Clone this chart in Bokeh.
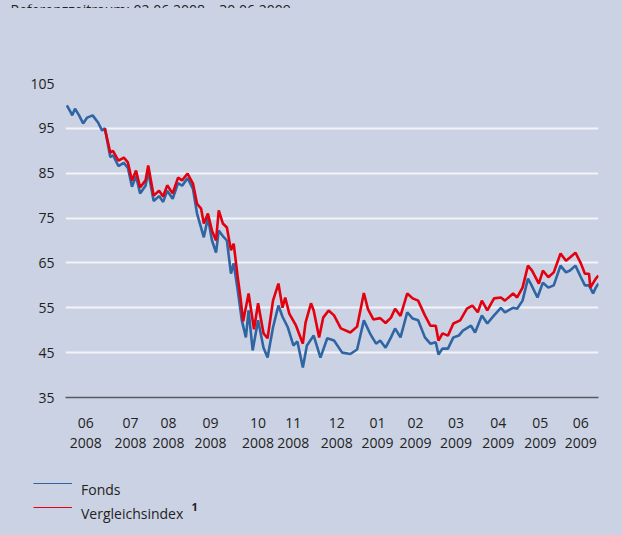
from bokeh.plotting import figure
from bokeh.layouts import column, row
from bokeh.models import Range1d, FixedTicker, Legend, LegendItem, Label
from bokeh.embed import file_html
from bokeh.resources import INLINE

# days since 02.06.2008
fonds_day = [1, 4, 5, 7, 10, 13, 16, 20, 24, 27, 29, 33, 35, 39, 43, 46, 49, 52, 55, 59, 61, 65, 69, 72, 75, 79, 83, 86, 90, 94,
             97, 102, 105, 108, 111, 113, 116, 119, 122, 124, 127, 130, 133, 135, 138, 142, 146, 149, 153, 157, 160, 164, 168,
             171, 175, 178, 183, 188, 193, 198, 204, 210, 215, 220, 225, 229, 232, 236, 240, 243, 247, 252, 256, 260, 265, 269,
             273, 275, 278, 282, 286, 290, 293, 299, 302, 307, 311, 316, 321, 324, 330, 333, 337, 341, 343, 348, 352, 356, 360,
             365, 369, 372, 376, 380, 383, 386, 389, 391, 393]
fonds_val = [100.1, 98.5, 97.9, 99.4, 97.9, 96.1, 97.4, 97.9, 96.3, 94.5, 95.0, 88.6, 89.0, 86.6, 87.3, 86.2, 82.0, 84.4, 80.5,
             82.2, 85.3, 78.8, 79.9, 78.6, 81.1, 79.3, 82.8, 82.2, 83.9, 81.5, 76.0, 70.7, 75.1, 70.0, 67.3, 72.2, 71.0, 70.0,
             62.6, 64.9, 58.9, 52.2, 48.4, 54.4, 45.5, 52.2, 46.1, 43.9, 50.6, 55.5, 53.0, 50.6, 46.6, 47.5, 41.7, 46.6, 48.8,
             43.9, 48.2, 47.7, 45.0, 44.7, 45.7, 52.2, 49.0, 47.0, 47.7, 46.1, 48.4, 50.4, 48.4, 54.0, 52.6, 52.2, 48.4, 47.0,
             47.3, 44.6, 45.9, 45.9, 48.4, 48.8, 49.9, 51.0, 49.5, 53.3, 51.5, 53.3, 55.0, 54.0, 55.0, 54.8, 56.6, 61.5, 60.4,
             57.3, 60.6, 59.5, 60.0, 64.4, 62.9, 63.3, 64.4, 61.8, 60.0, 60.0, 58.2, 59.5, 60.4]

index_day = [29, 33, 35, 39, 43, 46, 49, 52, 55, 59, 61, 65, 69, 72, 75, 79, 83, 86, 90, 94, 97, 100, 102, 105, 108, 111, 113,
             116, 119, 122, 124, 127, 129, 131, 135, 139, 142, 146, 149, 153, 157, 160, 162, 165, 170, 175, 177, 181, 183, 187,
             190, 194, 198, 203, 210, 215, 220, 223, 227, 232, 236, 240, 243, 247, 252, 256, 260, 265, 269, 273, 275, 278, 282,
             286, 291, 296, 300, 304, 307, 311, 316, 321, 324, 330, 333, 337, 341, 344, 349, 352, 356, 360, 365, 369, 372, 376,
             380, 383, 386, 387, 391, 393]
index_val = [95.0, 89.6, 90.0, 87.8, 88.5, 87.4, 83.4, 85.6, 81.8, 83.4, 86.7, 80.0, 81.1, 79.8, 82.3, 80.5, 84.0, 83.4, 84.9,
             82.7, 78.2, 77.1, 73.8, 76.0, 72.2, 70.0, 76.7, 73.8, 72.9, 67.8, 69.3, 61.8, 57.3, 52.0, 58.2, 50.2, 56.0, 49.3,
             48.2, 56.6, 60.4, 55.0, 57.3, 53.7, 51.0, 47.0, 51.7, 56.0, 54.4, 48.4, 52.8, 54.4, 53.3, 50.4, 49.5, 50.8, 58.3,
             54.7, 52.4, 52.7, 51.6, 52.8, 54.8, 53.2, 58.2, 57.1, 56.6, 53.3, 51.0, 51.0, 47.7, 49.3, 48.8, 51.5, 52.2, 54.8,
             55.5, 54.0, 56.6, 54.4, 57.1, 57.3, 56.6, 58.2, 57.3, 59.5, 64.4, 63.3, 60.4, 63.3, 61.8, 62.9, 67.1, 65.5, 66.2,
             67.3, 64.9, 62.6, 62.6, 59.5, 61.5, 62.2]

tick_days = [15, 48, 76, 107, 142, 168, 200, 230, 258, 288, 319, 350, 380]
tick_months = ["06", "07", "08", "09", "10", "11", "12", "01", "02", "03", "04", "05", "06"]
tick_years = ["2008"] * 7 + ["2009"] * 6
y_ticks = [35, 45, 55, 65, 75, 85, 95, 105]
series_names = ["Fonds", "Vergleichsindex"]
title_text = "Referenzzeitraum: 02.06.2008 – 30.06.2009"

BG = "#cbd2e3"
BLUE = "#2f65a3"
RED = "#e3000f"
TXT = "#222222"
FONT = "Open Sans"


def strip(height):
    f = figure(width=622, height=height, output_backend="svg", toolbar_location=None,
               x_range=Range1d(0, 1), y_range=Range1d(0, 1),
               x_axis_location=None, y_axis_location=None,
               min_border_left=0, min_border_right=0, min_border_top=0, min_border_bottom=0,
               background_fill_color=BG, border_fill_color=BG, outline_line_color=None)
    f.grid.visible = False
    return f


# top strip: the period line, cut off at the top edge as in the reference
t = strip(8)
t.add_layout(Label(x=10, y=3, x_units="screen", y_units="screen", text=title_text,
                   text_baseline="alphabetic",
                   text_font=FONT, text_font_size="14px", text_color=TXT))

p = figure(width=622, height=452, output_backend="svg", toolbar_location=None,
           x_range=Range1d(0, 393), y_range=Range1d(35, 105),
           min_border_left=65, min_border_right=24, min_border_top=75, min_border_bottom=63,
           background_fill_color=BG, border_fill_color=BG, outline_line_color=None)

p.xgrid.visible = False
p.ygrid.ticker = FixedTicker(ticks=y_ticks[1:])
p.ygrid.grid_line_color = "#f2f4f8"
p.ygrid.grid_line_width = 1.8

p.xaxis.ticker = FixedTicker(ticks=tick_days)
p.xaxis.major_label_overrides = {d: m + "\n" + y for d, m, y in zip(tick_days, tick_months, tick_years)}
p.xaxis.axis_line_color = "#555a60"
p.xaxis.axis_line_width = 1.5
p.xaxis.major_tick_line_color = None
p.xaxis.minor_tick_line_color = None
p.xaxis.major_label_standoff = 9
p.xaxis.major_label_text_font = FONT
p.xaxis.major_label_text_font_size = "14px"
p.xaxis.major_label_text_color = TXT
p.xaxis.major_label_text_line_height = 1.1

p.yaxis.ticker = FixedTicker(ticks=y_ticks)
p.yaxis.axis_line_color = None
p.yaxis.major_tick_line_color = None
p.yaxis.minor_tick_line_color = None
p.yaxis.major_label_standoff = 5
p.yaxis.major_label_text_font = FONT
p.yaxis.major_label_text_font_size = "14px"
p.yaxis.major_label_text_color = TXT

p.line(fonds_day, fonds_val, line_color=BLUE, line_width=2.6)
p.line(index_day, index_val, line_color=RED, line_width=2.6)

# legend strip below the chart: keys sit a little above the middle of their labels
q = strip(75)
key_lines = [q.line([5, 6], [5, 5], line_color=c, line_width=1.2) for c in (BLUE, RED)]
key_hidden = [q.line([5, 6], [5, 5], line_alpha=0) for _ in series_names]
common = dict(orientation="vertical", padding=0, margin=0, spacing=4, glyph_width=39, glyph_height=8,
              label_height=20, label_standoff=9,
              label_text_font=FONT, label_text_font_size="14px", label_text_color=TXT,
              background_fill_alpha=0, border_line_alpha=0)
q.add_layout(Legend(items=[LegendItem(label=" ", renderers=[r]) for r in key_lines],
                    location=(33, 18), **common), "center")
q.add_layout(Legend(items=[LegendItem(label=n, renderers=[r]) for n, r in zip(series_names, key_hidden)],
                    location=(33, 12), **common), "center")
q.add_layout(Label(x=191, y=25, x_units="screen", y_units="screen", text="1",
                   text_font=FONT, text_font_size="11px", text_font_style="bold", text_color=TXT))

layout = column(row(t), p, row(q), spacing=0)
html = file_html(layout, INLINE)
html = html.replace("</head>", "<style>html, body { background: %s; }</style></head>" % BG, 1)
open("out.html", "w").write(html)
